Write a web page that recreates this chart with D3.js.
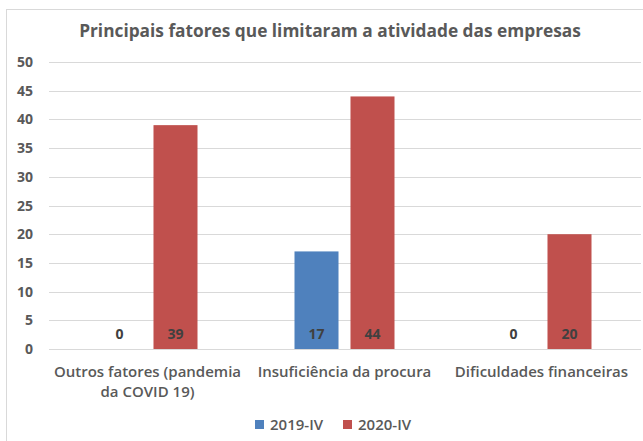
<!DOCTYPE html>
<meta charset="utf-8">
<style>
body { margin: 0; background: #fff; }
text { font-family: "Open Sans", Lato, sans-serif; }
</style>
<body>
<script src="https://cdn.jsdelivr.net/npm/d3@7"></script>
<script>

// data
var categories = [["Outros fatores (pandemia", "da COVID 19)"], ["Insuficiência da procura"], ["Dificuldades financeiras"]];
var seriesNames = ["2019-IV", "2020-IV"];
var values2019 = [0, 17, 0];
var values2020 = [39, 44, 20];
var yTicks = [0, 5, 10, 15, 20, 25, 30, 35, 40, 45, 50];
var colors = ["#4f81bd", "#c0504d"];

var width = 643, height = 441;

var svg = d3.select("body").append("svg")
    .attr("width", width)
    .attr("height", height);

// chart frame
svg.append("rect")
    .attr("x", 6.5).attr("y", 9.5)
    .attr("width", 660).attr("height", 460)
    .attr("fill", "#fff")
    .attr("stroke", "#d9d9d9");

// title
svg.append("text")
    .attr("x", 330).attr("y", 37)
    .attr("text-anchor", "middle")
    .attr("font-size", 17.3)
    .attr("font-weight", "bold")
    .attr("fill", "#595959")
    .text("Principais fatores que limitaram a atividade das empresas");

var catIdx = categories.map(function(d, i) { return i; });

var x0 = d3.scaleBand().domain(catIdx).range([49, 640]);
var y = d3.scaleLinear().domain([0, 50]).range([349, 62]);

// gridlines
svg.append("g").selectAll("line")
    .data(yTicks).enter()
    .append("line")
    .attr("x1", 49).attr("x2", 641)
    .attr("y1", function(d) { return Math.round(y(d)) + 0.5; })
    .attr("y2", function(d) { return Math.round(y(d)) + 0.5; })
    .attr("stroke", "#d9d9d9");

// y tick labels
svg.append("g").selectAll("text")
    .data(yTicks).enter()
    .append("text")
    .attr("x", 33)
    .attr("y", function(d) { return y(d) + 5; })
    .attr("text-anchor", "end")
    .attr("font-size", 14)
    .attr("font-weight", "bold")
    .attr("fill", "#595959")
    .text(function(d) { return d; });

// bars
var rows = catIdx.map(function(i) {
  return [values2019[i], values2020[i]];
});

var groups = svg.append("g").selectAll("g")
    .data(rows).enter()
    .append("g")
    .attr("transform", function(d, i) { return "translate(" + x0(i) + ",0)"; });

var bw = x0.bandwidth();
var x1 = d3.scaleBand().domain([0, 1])
    .range([bw / 2 - 50, bw / 2 + 50])
    .paddingInner(0.214);

groups.selectAll("rect")
    .data(function(d) { return d; }).enter()
    .append("rect")
    .attr("x", function(d, j) { return x1(j); })
    .attr("y", function(d) { return y(d); })
    .attr("width", x1.bandwidth())
    .attr("height", function(d) { return y(0) - y(d); })
    .attr("fill", function(d, j) { return colors[j]; });

groups.selectAll("text")
    .data(function(d) { return d; }).enter()
    .append("text")
    .attr("x", function(d, j) { return x1(j) + x1.bandwidth() / 2; })
    .attr("y", 339)
    .attr("text-anchor", "middle")
    .attr("font-size", 14)
    .attr("font-weight", "bold")
    .attr("fill", "#404040")
    .text(function(d) { return d; });

// category labels
var catLabels = svg.append("g").selectAll("text")
    .data(categories).enter()
    .append("text")
    .attr("x", function(d, i) { return x0(i) + bw / 2; })
    .attr("y", 377)
    .attr("text-anchor", "middle")
    .attr("font-size", 15)
    .attr("font-weight", 600)
    .attr("fill", "#595959");

catLabels.selectAll("tspan")
    .data(function(d) { return d; }).enter()
    .append("tspan")
    .attr("x", function() { return d3.select(this.parentNode).attr("x"); })
    .attr("dy", function(d, k) { return k === 0 ? 0 : 20; })
    .text(function(d) { return d; });

// legend
var legendX = [255, 343];
var legend = svg.append("g").selectAll("g")
    .data(seriesNames).enter()
    .append("g")
    .attr("transform", function(d, i) { return "translate(" + legendX[i] + ",420)"; });

legend.append("rect")
    .attr("width", 9).attr("height", 9)
    .attr("fill", function(d, i) { return colors[i]; });

legend.append("text")
    .attr("x", 15).attr("y", 10)
    .attr("font-size", 15)
    .attr("font-weight", 600)
    .attr("fill", "#595959")
    .text(function(d) { return d; });

</script>
</body>
